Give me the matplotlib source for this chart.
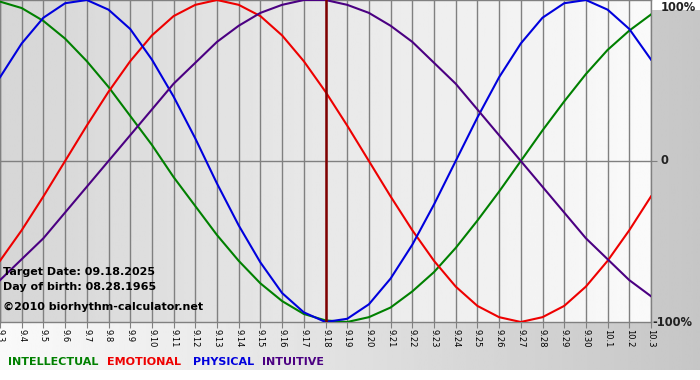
import numpy as np
import matplotlib
matplotlib.use("Agg")
import matplotlib.pyplot as plt

# day labels 9.3 .. 10.3
days = ["9.3", "9.4", "9.5", "9.6", "9.7", "9.8", "9.9", "9.10", "9.11", "9.12",
        "9.13", "9.14", "9.15", "9.16", "9.17", "9.18", "9.19", "9.20", "9.21", "9.22",
        "9.23", "9.24", "9.25", "9.26", "9.27", "9.28", "9.29", "9.30", "10.1", "10.2", "10.3"]

# values (-1 .. 1)
physical = [0.52, 0.73, 0.89, 0.98, 1.00, 0.94, 0.82, 0.63, 0.40, 0.14,
            -0.14, -0.40, -0.63, -0.82, -0.94, -1.00, -0.98, -0.89, -0.73, -0.52,
            -0.27, 0.00, 0.27, 0.52, 0.73, 0.89, 0.98, 1.00, 0.94, 0.82, 0.63]
emotional = [-0.62, -0.43, -0.22, 0.00, 0.22, 0.43, 0.62, 0.78, 0.90, 0.97,
             1.00, 0.97, 0.90, 0.78, 0.62, 0.43, 0.22, 0.00, -0.22, -0.43,
             -0.62, -0.78, -0.90, -0.97, -1.00, -0.97, -0.90, -0.78, -0.62, -0.43, -0.22]
intellectual = [0.99, 0.95, 0.87, 0.76, 0.62, 0.46, 0.28, 0.10, -0.10, -0.28,
                -0.46, -0.62, -0.76, -0.87, -0.95, -0.99, -1.00, -0.97, -0.91, -0.81,
                -0.69, -0.54, -0.37, -0.19, 0.00, 0.19, 0.37, 0.54, 0.69, 0.81, 0.91]
intuitive = [-0.74, -0.61, -0.48, -0.32, -0.16, 0.00, 0.16, 0.32, 0.48, 0.61,
             0.74, 0.84, 0.92, 0.97, 1.00, 1.00, 0.97, 0.92, 0.84, 0.74,
             0.61, 0.48, 0.32, 0.16, 0.00, -0.16, -0.32, -0.48, -0.61, -0.74, -0.84]

target_idx = days.index("9.18")

W, H = 700, 380
fig = plt.figure(figsize=(W / 100, H / 100), dpi=100)
fig.patch.set_facecolor("white")

# figure background gradient (light left -> gray right)
bg = fig.add_axes([0, 10 / H, 1, 360 / H])
bg.imshow(np.linspace(250, 198, 256)[None, :], cmap="gray", vmin=0, vmax=255,
          aspect="auto", extent=[0, 1, 0, 1])
bg.axis("off")

ax = fig.add_axes([0, 1 - 322 / H, 651 / W, 322 / H])
ax.set_xlim(0, len(days) - 1)
ax.set_ylim(-1.0, 1.0)
ax.imshow(np.linspace(214, 250, 256)[None, :], cmap="gray", vmin=0, vmax=255,
          aspect="auto", extent=[0, len(days) - 1, -1.0, 1.0], zorder=0)

x = np.arange(len(days))
for xi in x:
    ax.axvline(xi, color="#808080", lw=1.0, zorder=1)
ax.axhline(0, color="#808080", lw=1.0, zorder=1)

lw = 1.5
ax.plot(x, intellectual, color="#008000", lw=lw, zorder=3)
ax.plot(x, emotional, color="#ee0000", lw=lw, zorder=3)
ax.plot(x, physical, color="#0000dd", lw=lw, zorder=3)
ax.plot(x, intuitive, color="#4b0082", lw=lw, zorder=3)
ax.axvline(target_idx, color="#800000", lw=1.8, zorder=4)

for s in ax.spines.values():
    s.set_color("#808080")
    s.set_linewidth(1.0)

ax.set_xticks(x)
ax.set_xticklabels(days, rotation=270, fontsize=6)
ax.tick_params(axis="x", length=4, color="#808080", pad=1)
ax.set_yticks([0])
ax.set_yticklabels([])
ax.tick_params(axis="y", left=False, right=True, length=4, color="#808080")

ax.text(0.004, 0.155, "Target Date: 09.18.2025", transform=ax.transAxes,
        fontsize=8, fontweight="bold", va="center", ha="left", zorder=5)
ax.text(0.004, 0.109, "Day of birth: 08.28.1965", transform=ax.transAxes,
        fontsize=8, fontweight="bold", va="center", ha="left", zorder=5)
ax.text(0.004, 0.047, "\u00a92010 biorhythm-calculator.net", transform=ax.transAxes,
        fontsize=8, fontweight="bold", va="center", ha="left", zorder=5)

# right-hand percent labels
for yv, lab, dx in [(0.955, "100%", 7), (0.0, "0", 7), (-1.0, "-100%", 1)]:
    ax.annotate(lab, xy=(1, yv), xycoords=("axes fraction", "data"),
                xytext=(dx, 0), textcoords="offset points", fontsize=8.3,
                fontweight="bold", color="#222222", va="center", ha="left",
                annotation_clip=False)

# legend text
legend = [("INTELLECTUAL", "#008000"), ("EMOTIONAL", "#ee0000"),
          ("PHYSICAL", "#0000dd"), ("INTUITIVE", "#4b0082")]
xs = [8, 107, 193, 262]
for (lab, col), xp in zip(legend, xs):
    fig.text(xp / W, 1 - 362 / H, lab, color=col, fontsize=8,
             fontweight="bold", va="center", ha="left")

fig.savefig("out.png", dpi=100)
